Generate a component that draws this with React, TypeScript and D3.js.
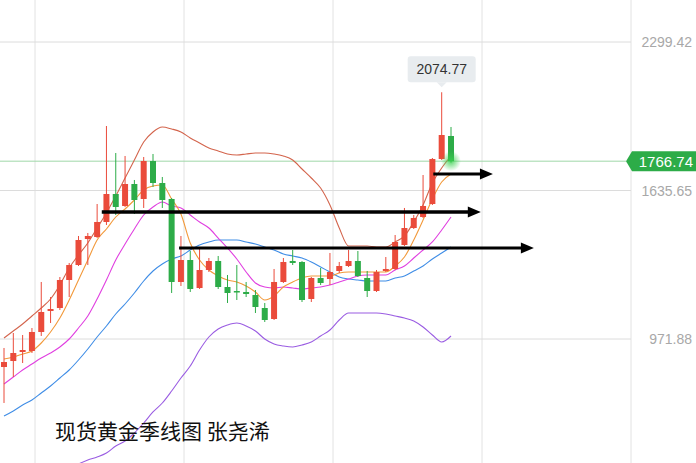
import React, { useEffect } from "react";
import * as d3 from "d3";

// quarterly gold candles (visible window)
const opens = [846.7, 873.5, 913.8, 918.2, 1003.2, 1097.0, 1110.4, 1235.6, 1302.6, 1418.8, 1427.8, 1494.9, 1620.0, 1566.4, 1664.7, 1597.7, 1767.5, 1669.2, 1597.7, 1226.7, 1325.0, 1199.8, 1280.3, 1320.6, 1204.3, 1186.4, 1182.0, 1168.5, 1110.4, 1061.3, 1226.7, 1320.6, 1316.1, 1150.7, 1244.6, 1240.1, 1275.9, 1298.2, 1320.6, 1244.6, 1186.4, 1275.9, 1284.8, 1392.1, 1468.0, 1517.2, 1575.3, 1776.4, 1879.3];
const highs = [931.7, 998.7, 989.8, 1021.0, 1226.7, 1159.6, 1249.0, 1311.6, 1432.3, 1445.7, 1575.3, 1923.9, 1803.3, 1789.9, 1682.6, 1785.4, 1798.8, 1696.0, 1602.1, 1432.3, 1365.2, 1383.1, 1333.9, 1342.9, 1258.0, 1302.6, 1226.7, 1190.9, 1132.8, 1284.8, 1333.9, 1369.7, 1320.0, 1249.0, 1289.3, 1356.3, 1316.1, 1369.7, 1365.2, 1275.9, 1280.3, 1338.4, 1436.7, 1557.5, 1526.1, 1704.9, 1780.9, 2074.77, 1919.5];
const lows = [685.9, 802.0, 864.6, 909.3, 985.3, 1043.4, 1101.5, 1159.6, 1298.2, 1302.6, 1423.3, 1481.5, 1526.1, 1561.9, 1530.6, 1557.5, 1651.3, 1557.5, 1177.5, 1208.8, 1182.0, 1195.4, 1271.4, 1195.4, 1132.8, 1146.2, 1159.6, 1088.1, 1047.9, 1056.8, 1222.2, 1302.6, 1137.3, 1137.3, 1213.3, 1213.3, 1266.9, 1293.7, 1249.0, 1159.6, 1182.0, 1271.4, 1280.3, 1387.6, 1463.5, 1512.7, 1570.8, 1772.0, 1760.5];
const closes = [869.0, 909.3, 922.7, 1003.2, 1092.6, 1105.9, 1235.6, 1302.6, 1414.4, 1432.3, 1494.9, 1620.0, 1561.9, 1664.7, 1593.2, 1767.5, 1669.2, 1593.2, 1226.7, 1325.0, 1195.4, 1280.3, 1320.6, 1204.3, 1177.5, 1182.0, 1173.0, 1114.9, 1056.8, 1226.7, 1316.1, 1311.6, 1146.2, 1244.6, 1222.2, 1271.4, 1298.2, 1320.6, 1253.5, 1186.4, 1271.4, 1284.8, 1405.4, 1468.0, 1512.7, 1566.4, 1776.4, 1883.7, 1766.74];

// indicator lines
const ma5 = [882.5, 891.4, 904.8, 918.2, 954.0, 1003.2, 1065.7, 1146.2, 1235.6, 1325.0, 1414.4, 1463.6, 1517.2, 1553.0, 1593.2, 1637.9, 1655.8, 1660.2, 1597.7, 1530.6, 1401.0, 1325.0, 1280.3, 1253.5, 1235.6, 1226.7, 1208.8, 1182.0, 1146.2, 1164.1, 1204.3, 1226.7, 1244.5, 1253.5, 1253.5, 1253.5, 1266.9, 1271.4, 1271.4, 1271.4, 1271.4, 1271.4, 1298.2, 1338.4, 1414.4, 1503.8, 1597.7, 1673.7, 1709.4];
const ma10 = [770.7, 802.0, 833.3, 860.1, 886.9, 909.3, 936.1, 971.9, 1021.0, 1074.7, 1150.7, 1235.6, 1325.0, 1396.5, 1463.6, 1526.1, 1561.9, 1584.3, 1566.4, 1557.4, 1526.1, 1494.9, 1468.0, 1423.3, 1378.6, 1329.5, 1271.4, 1222.2, 1204.3, 1199.8, 1204.3, 1199.8, 1195.4, 1199.8, 1204.3, 1213.2, 1226.7, 1240.1, 1253.5, 1257.9, 1257.9, 1257.9, 1280.3, 1298.2, 1333.9, 1369.7, 1405.5, 1459.1, 1517.2];
const bollMid = [627.7, 650.0, 676.8, 699.2, 730.5, 761.8, 797.5, 833.3, 878.0, 927.2, 980.8, 1030.0, 1083.6, 1128.3, 1177.5, 1231.1, 1275.8, 1307.1, 1329.5, 1342.9, 1369.7, 1392.0, 1405.5, 1414.4, 1414.4, 1414.4, 1405.5, 1396.5, 1383.1, 1369.7, 1351.8, 1342.9, 1333.9, 1316.1, 1293.7, 1271.4, 1249.0, 1240.1, 1235.6, 1231.1, 1231.1, 1231.1, 1244.5, 1253.5, 1275.8, 1298.2, 1329.5, 1356.3, 1383.1];
const bollUp = [976.3, 1007.6, 1038.9, 1074.7, 1110.4, 1150.7, 1213.2, 1289.2, 1347.3, 1401.0, 1468.0, 1535.1, 1611.1, 1691.5, 1772.0, 1852.5, 1897.2, 1919.5, 1910.6, 1897.2, 1870.3, 1848.0, 1825.6, 1812.2, 1798.8, 1794.3, 1798.8, 1803.3, 1803.3, 1798.8, 1789.9, 1772.0, 1731.8, 1691.5, 1646.8, 1570.8, 1468.0, 1387.6, 1387.6, 1387.6, 1383.1, 1383.1, 1405.5, 1432.3, 1494.9, 1570.8, 1669.2, 1736.2, 1789.9];
const bollLow = [279.0, 292.4, 314.8, 323.7, 350.5, 372.9, 381.8, 390.8, 413.1, 431.0, 444.4, 462.3, 493.6, 515.9, 551.7, 596.4, 645.6, 685.8, 739.4, 797.5, 851.2, 922.7, 980.8, 1016.6, 1034.4, 1043.4, 1030.0, 1007.6, 971.9, 949.5, 940.6, 936.1, 945.0, 958.5, 985.3, 1012.1, 1056.8, 1088.1, 1088.1, 1088.1, 1088.1, 1083.6, 1074.7, 1065.7, 1052.3, 1025.5, 989.8, 958.5, 985.3];

const tickValues = [2299.42, 1635.65, 971.88];
const tickLabels = ["2299.42", "1635.65", "971.88"];
const highLabel = "2074.77";
const lastLabel = "1766.74";
const title = "现货黄金季线图 张尧浠";

// hand-drawn arrows: candle index start/end and price level
const arrowStart = [10.5, 18.8, 46.1];
const arrowEnd = [51.2, 56.9, 52.5];
const arrowPrice = [1539.6, 1378.6, 1709.4];
const arrowWidth = [3.5, 3, 3];

const W = 696;
const H = 463;
const RED = "#ea4b3b";
const GREEN = "#2dac48";

const App = () => {
  useEffect(() => {
    document.body.style.margin = "0";
  }, []);

  const x = d3.scaleLinear().domain([0, 48]).range([4, 451]);
  const y = d3.scaleLinear().domain([971.88, 2299.42]).range([339, 42]);
  const axisX = x(67.33);
  const gridIdx = [3.33, 19.33, 35.33, 51.33, 67.33];

  const line = d3
    .line<number>()
    .x((_d, i) => x(i))
    .y((d) => y(d))
    .curve(d3.curveMonotoneX);

  const series = [
    { values: bollLow, color: "#9a5ce2" },
    { values: bollMid, color: "#3f8de6" },
    { values: bollUp, color: "#d3644c" },
    { values: ma10, color: "#e03fe0" },
    { values: ma5, color: "#f2993a" },
  ];

  const hiIdx = highs.indexOf(d3.max(highs) as number);
  const hx = x(hiIdx);
  const hy = y(highs[hiIdx]);
  const lastIdx = closes.length - 1;
  const ly = y(closes[lastIdx]);

  return (
    <svg width={W} height={H} style={{ position: "absolute", left: 0, top: 0, background: "#fff" }}>
      <defs>
        <radialGradient id="glow">
          <stop offset="0%" stopColor="#3ad04f" stopOpacity={0.85} />
          <stop offset="100%" stopColor="#3ad04f" stopOpacity={0} />
        </radialGradient>
      </defs>
      {gridIdx.map((g, i) => (
        <line key={"v" + i} x1={x(g)} x2={x(g)} y1={0} y2={H} stroke="#e2e2e2" strokeWidth={1} />
      ))}
      {tickValues.map((t, i) => (
        <line key={"h" + i} x1={0} x2={axisX} y1={y(t)} y2={y(t)} stroke="#dcdcdc" strokeWidth={1} />
      ))}
      <line x1={0} x2={axisX - 5} y1={ly} y2={ly} stroke="#9fd8a8" strokeWidth={1} />

      {series.map((s, i) => (
        <path key={"s" + i} d={line(s.values) || ""} fill="none" stroke={s.color} strokeWidth={1.1} />
      ))}

      {closes.map((c, i) => {
        const o = opens[i];
        const up = c >= o;
        const col = up ? RED : GREEN;
        const top = y(Math.max(o, c));
        const bot = y(Math.min(o, c));
        const cx = x(i);
        return (
          <g key={"c" + i}>
            <line x1={cx} x2={cx} y1={y(highs[i])} y2={y(lows[i])} stroke={col} strokeWidth={1} />
            <rect x={cx - 3} y={top} width={6} height={Math.max(1.5, bot - top)} fill={col} />
          </g>
        );
      })}

      <circle cx={x(lastIdx)} cy={ly} r={10} fill="url(#glow)" />

      {arrowPrice.map((p, i) => {
        const x1 = x(arrowStart[i]);
        const x2 = x(arrowEnd[i]);
        const yy = y(p);
        const hl = 13;
        const hw = 5.5;
        return (
          <g key={"a" + i}>
            <line x1={x1} x2={x2 - hl + 2} y1={yy} y2={yy} stroke="#000" strokeWidth={arrowWidth[i]} />
            <path d={`M${x2},${yy}L${x2 - hl},${yy - hw}L${x2 - hl},${yy + hw}Z`} fill="#000" />
          </g>
        );
      })}

      <g>
        <rect x={hx - 34} y={hy - 36} width={68} height={26} rx={3} fill="#e8ecef" />
        <path d={`M${hx - 5},${hy - 10}L${hx},${hy - 5}L${hx + 5},${hy - 10}Z`} fill="#e8ecef" />
        <text
          x={hx}
          y={hy - 18}
          textAnchor="middle"
          fontFamily="'Liberation Sans', Arial, sans-serif"
          fontSize={14}
          fill="#333"
        >
          {highLabel}
        </text>
      </g>

      {tickValues.map((t, i) => (
        <text
          key={"t" + i}
          x={692}
          y={y(t) + 5}
          textAnchor="end"
          fontFamily="'Liberation Sans', Arial, sans-serif"
          fontSize={14}
          fill="#a8a8a8"
        >
          {tickLabels[i]}
        </text>
      ))}

      <path
        d={`M${axisX - 5},${ly}L${axisX + 1},${ly - 10}L${W},${ly - 10}L${W},${ly + 10}L${axisX + 1},${ly + 10}Z`}
        fill={GREEN}
      />
      <text
        x={693}
        y={ly + 5.5}
        textAnchor="end"
        fontFamily="'Liberation Sans', Arial, sans-serif"
        fontSize={15}
        fill="#fff"
      >
        {lastLabel}
      </text>

      <text x={55} y={439} fontFamily="'Noto Sans CJK SC', sans-serif" fontSize={21} fill="#111">
        {title}
      </text>
    </svg>
  );
};

export default App;
